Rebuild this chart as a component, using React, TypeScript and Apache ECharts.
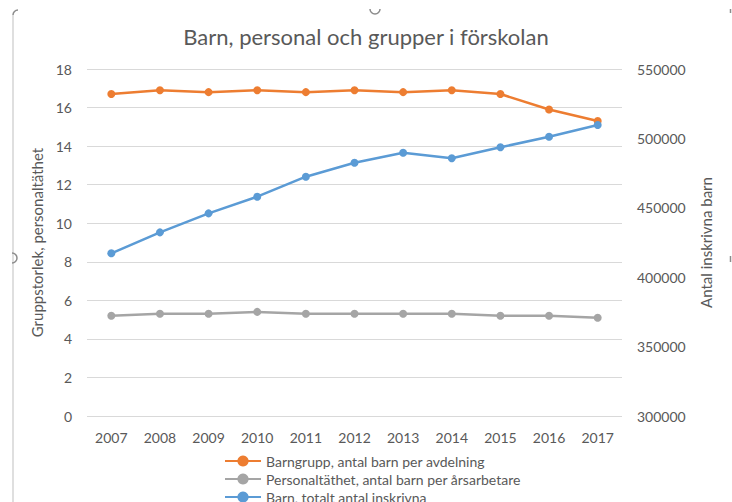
import React, { useEffect, useRef } from "react";
import * as echarts from "echarts";

const years = ["2007", "2008", "2009", "2010", "2011", "2012", "2013", "2014", "2015", "2016", "2017"];
const barngrupp = [16.7, 16.9, 16.8, 16.9, 16.8, 16.9, 16.8, 16.9, 16.7, 15.9, 15.3];
const personaltathet = [5.2, 5.3, 5.3, 5.4, 5.3, 5.3, 5.3, 5.3, 5.2, 5.2, 5.1];
const inskrivna = [417200, 432300, 446000, 458000, 472400, 482500, 489700, 485700, 493600, 501200, 509700];

const seriesNames = [
  "Barngrupp, antal barn per avdelning",
  "Personaltäthet, antal barn per årsarbetare",
  "Barn, totalt antal inskrivna",
];
const colors = ["#ED7D31", "#A5A5A5", "#5B9BD5"];

const FONT = "Lato, 'Noto Sans', sans-serif";
const TXT = "#595959";

export default function App() {
  const ref = useRef<HTMLDivElement>(null);
  useEffect(() => {
    if (!ref.current) return;
    const chart = echarts.init(ref.current, null, { renderer: "svg" });
    const mkSeries = (name: string, data: number[], color: string, axis: number) => ({
      name,
      type: "line",
      data,
      yAxisIndex: axis,
      symbol: "circle",
      symbolSize: 8,
      lineStyle: { color, width: 2.5 },
      itemStyle: { color },
    });
    chart.setOption({
      animation: false,
      backgroundColor: "#ffffff",
      textStyle: { fontFamily: FONT },
      title: {
        text: "Barn, personal och grupper i förskolan",
        left: "center",
        top: 20,
        textStyle: { fontFamily: FONT, fontSize: 22, fontWeight: "normal", color: TXT },
      },
      grid: { left: 87, right: 110, top: 69, bottom: 86 },
      legend: {
        orient: "vertical",
        left: 219,
        top: 449,
        height: 80,
        itemGap: 4,
        itemWidth: 36,
        itemHeight: 14,
        textStyle: { fontFamily: FONT, fontSize: 14, color: TXT },
        data: seriesNames,
      },
      xAxis: {
        type: "category",
        data: years,
        boundaryGap: true,
        axisLine: { show: false },
        axisTick: { show: false },
        axisLabel: { fontFamily: FONT, fontSize: 14, color: TXT, margin: 14 },
      },
      yAxis: [
        {
          type: "value",
          min: 0,
          max: 18,
          interval: 2,
          name: "Gruppstorlek, personaltäthet",
          nameLocation: "middle",
          nameGap: 40,
          nameTextStyle: { fontFamily: FONT, fontSize: 15, color: TXT },
          axisLine: { show: false },
          axisTick: { show: false },
          axisLabel: { fontFamily: FONT, fontSize: 14, color: TXT, margin: 15 },
          splitLine: { lineStyle: { color: "#D9D9D9", width: 1 } },
        },
        {
          type: "value",
          min: 300000,
          max: 550000,
          interval: 50000,
          position: "right",
          name: "Antal inskrivna barn",
          nameLocation: "middle",
          nameRotate: 90,
          nameGap: 76,
          nameTextStyle: { fontFamily: FONT, fontSize: 15, color: TXT },
          axisLine: { show: false },
          axisTick: { show: false },
          axisLabel: { fontFamily: FONT, fontSize: 14, color: TXT, margin: 15, formatter: (v: number) => String(v) },
          splitLine: { show: false },
        },
      ],
      series: [
        mkSeries(seriesNames[0], barngrupp, colors[0], 0),
        mkSeries(seriesNames[1], personaltathet, colors[1], 0),
        mkSeries(seriesNames[2], inskrivna, colors[2], 1),
      ],
      graphic: [
        { type: "line", shape: { x1: 13, y1: 15, x2: 13, y2: 502 }, style: { stroke: "#BFBFBF", lineWidth: 1 } },
        { type: "arc", shape: { cx: 18, cy: 15, r: 5, startAngle: Math.PI, endAngle: Math.PI * 1.5 }, style: { stroke: "#8C8C8C", lineWidth: 1.5, fill: "none" } },
        { type: "arc", shape: { cx: 375, cy: 9, r: 5, startAngle: 0, endAngle: Math.PI }, style: { stroke: "#8C8C8C", lineWidth: 1.5, fill: "none" } },
        { type: "arc", shape: { cx: 12, cy: 258, r: 5, startAngle: -Math.PI / 2, endAngle: Math.PI / 2 }, style: { stroke: "#8C8C8C", lineWidth: 1.5, fill: "none" } },
        { type: "line", shape: { x1: 730.5, y1: 9, x2: 730.5, y2: 13 }, style: { stroke: "#8C8C8C", lineWidth: 1.5 } },
        { type: "line", shape: { x1: 730.5, y1: 256, x2: 730.5, y2: 262 }, style: { stroke: "#8C8C8C", lineWidth: 1.5 } },
      ],
    });
    return () => chart.dispose();
  }, []);
  return <div ref={ref} style={{ width: 732, height: 502, position: "fixed", left: 0, top: 0 }} />;
}
